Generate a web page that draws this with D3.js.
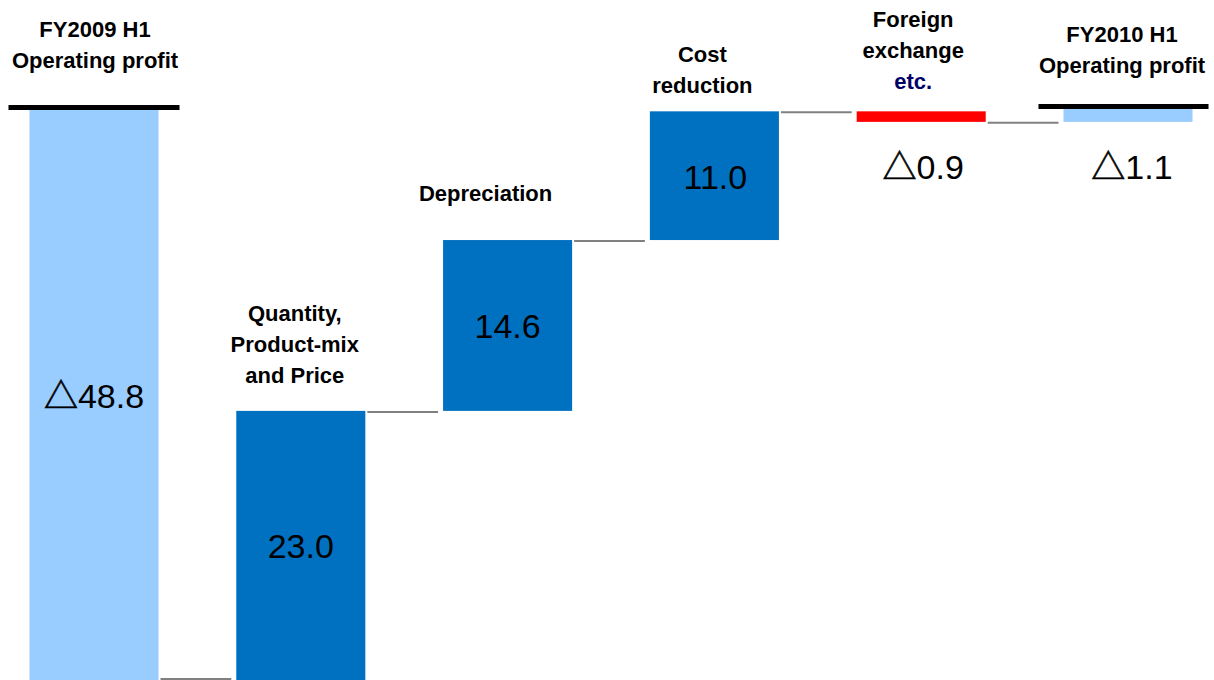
<!DOCTYPE html>
<html><head><meta charset="utf-8">
<script src="https://cdn.jsdelivr.net/npm/d3@7"></script>
<style>
html,body{margin:0;padding:0;background:#fff;}
svg{display:block;}
</style></head>
<body>
<svg id="chart" width="1214" height="680"></svg>
<script>
const categories = [
  ["FY2009 H1", "Operating profit"],
  ["Quantity,", "Product-mix", "and Price"],
  ["Depreciation"],
  ["Cost", "reduction"],
  ["Foreign", "exchange", "etc."],
  ["FY2010 H1", "Operating profit"]
];
const values = [-48.8, 23.0, 14.6, 11.0, -0.9, -1.1];
const kinds = ["total", "delta", "delta", "delta", "delta", "total"];
const valueLabels = ["△48.8", "23.0", "14.6", "11.0", "△0.9", "△1.1"];

const W = 1214, H = 680;
const svg = d3.select("#chart");

const x = d3.scaleBand().domain(d3.range(values.length))
  .range([-9.4, 1231.4]).paddingInner(0.376).paddingOuter(0.188);
const y = d3.scaleLinear().domain([-48.8, 0]).range([680, 109]);

let run = 0;
const segs = values.map((v, i) => {
  let y0, y1;
  if (kinds[i] === "total") { y0 = 0; y1 = v; run = v; }
  else { y0 = run; y1 = run + v; run = y1; }
  return {i, v, kind: kinds[i], lo: Math.min(y0, y1), hi: Math.max(y0, y1), end: y1};
});

function color(s) {
  if (s.kind === "total") return "#99CCFF";
  return s.v >= 0 ? "#0070C0" : "#FF0000";
}

// connectors
for (let k = 0; k < segs.length - 1; k++) {
  const s = segs[k];
  const x1 = x(k) + x.bandwidth() + 2;
  const x2 = x(k + 1) - 5;
  let yy = y(s.end);
  yy = Math.min(yy, H - 2);
  svg.append("line").attr("x1", x1).attr("x2", x2).attr("y1", yy + 1).attr("y2", yy + 1)
    .attr("stroke", "#808080").attr("stroke-width", 2);
}

// bars
svg.selectAll("rect.bar").data(segs).enter().append("rect")
  .attr("class", "bar")
  .attr("x", d => x(d.i))
  .attr("width", x.bandwidth())
  .attr("y", d => y(d.hi))
  .attr("height", d => y(d.lo) - y(d.hi))
  .attr("fill", color);

// total markers (black lines)
segs.filter(d => d.kind === "total").forEach(d => {
  const left = d.i === 0 ? 21 : 25, right = d.i === 0 ? 21 : 16;
  svg.append("rect").attr("x", x(d.i) - left).attr("width", x.bandwidth() + left + right)
    .attr("y", y(0) - (d.i === 0 ? 4 : 5)).attr("height", 5).attr("fill", "#000");
});

// value labels
const valFont = "'Liberation Sans', Arial, 'Noto Sans CJK JP', sans-serif";
const valShift = [0, 0, 0, 1, 2, 4];
segs.forEach(d => {
  const h = y(d.lo) - y(d.hi);
  const cx = x(d.i) + x.bandwidth() / 2 + valShift[d.i];
  let by;
  if (h > 60) by = (y(d.lo) + y(d.hi)) / 2 + 13;
  else by = y(d.lo) + 57;
  const t = svg.append("text").attr("x", cx).attr("y", by)
    .attr("text-anchor", "middle").attr("font-family", valFont)
    .attr("font-size", 34).attr("fill", "#000");
  const lab = valueLabels[d.i];
  if (lab.startsWith("△")) {
    t.append("tspan").attr("font-family", "'Noto Sans CJK JP', sans-serif").attr("font-size", 34)
      .attr("stroke", "#000").attr("stroke-width", 0.6).text("△");
    t.append("tspan").text(lab.slice(1));
  } else t.text(lab);
});

// category labels
const catFont = "'Liberation Sans', Arial, sans-serif";
const catBase = [37, 321, 201, 62, 27, 42];
const catShift = [1, -6, -22, -12, -8, -6];
segs.forEach(d => {
  const cx = x(d.i) + x.bandwidth() / 2 + catShift[d.i];
  categories[d.i].forEach((ln, j) => {
    svg.append("text").attr("x", cx).attr("y", catBase[d.i] + j * 31)
      .attr("text-anchor", "middle").attr("font-family", catFont)
      .attr("font-weight", "bold").attr("font-size", 22)
      .attr("fill", ln === "etc." ? "#000066" : "#000")
      .text(ln);
  });
});
</script>
</body></html>
